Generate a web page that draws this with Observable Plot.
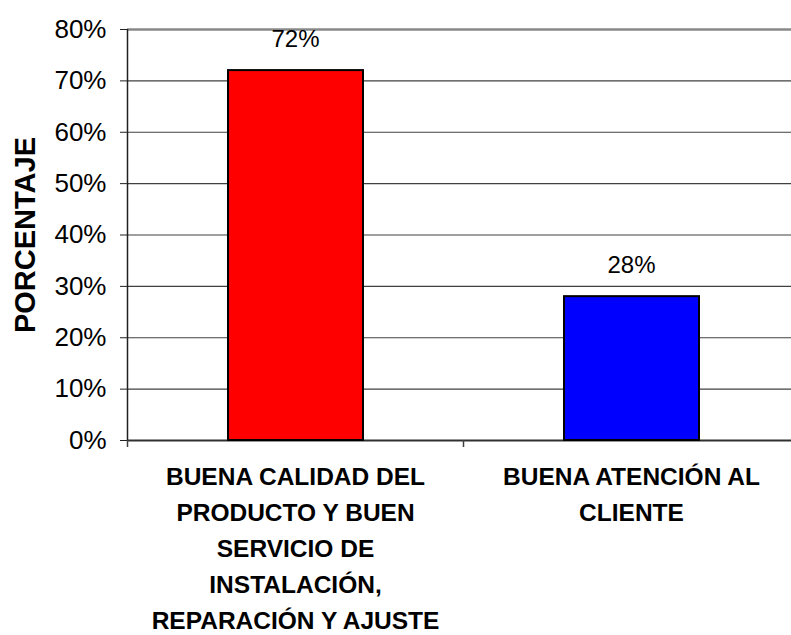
<!DOCTYPE html>
<html>
<head>
<meta charset="utf-8">
<script src="https://cdn.jsdelivr.net/npm/d3@7"></script>
<script src="https://cdn.jsdelivr.net/npm/@observablehq/plot@0.6"></script>
<style>
  html, body { margin: 0; padding: 0; background: #fff; }
</style>
</head>
<body>
<div id="chart"></div>
<script>
const categories = [
  "BUENA CALIDAD DEL\nPRODUCTO Y BUEN\nSERVICIO DE\nINSTALACIÓN,\nREPARACIÓN Y AJUSTE",
  "BUENA ATENCIÓN AL\nCLIENTE"
];
const values = [0.72, 0.28];
const valueLabels = ["72%", "28%"];
const barColors = ["#FF0000", "#0000FF"];
const yTicks = [0, 0.1, 0.2, 0.3, 0.4, 0.5, 0.6, 0.7, 0.8];
const yAxisTitle = "PORCENTAJE";

const data = categories.map((c, i) => ({cat: c, value: values[i], label: valueLabels[i], color: barColors[i]}));

const font = "'Liberation Sans', Arial, sans-serif";

const chart = Plot.plot({
  width: 791,
  height: 635,
  marginTop: 29,
  marginBottom: 195,
  marginLeft: 127,
  marginRight: 0,
  style: {fontFamily: font, fontSize: "24px", background: "#fff", color: "#000"},
  x: {type: "band", domain: categories, range: [127, 799], padding: 0, axis: null},
  y: {domain: [0, 0.8], axis: null},
  marks: [
    // gridlines
    Plot.ruleY(yTicks.filter(t => t > 0 && t < 0.8), {stroke: "#404040", strokeWidth: 1.2}),
    Plot.ruleY([0.8], {stroke: "#888", strokeWidth: 2.5}),
    Plot.ruleY([0], {stroke: "#303030", strokeWidth: 2}),
    // bars
    Plot.barY(data, {x: "cat", y: "value", fill: "color", stroke: "#000", strokeWidth: 2, insetLeft: 101, insetRight: 100}),
    // value labels
    Plot.text(data, {x: "cat", y: "value", text: "label", dy: -24, lineAnchor: "bottom", fontSize: 24, fill: "#000"}),
    // y axis line
    Plot.ruleX([categories[0]], {dx: -168, y1: 0, y2: 0.8, stroke: "#202020", strokeWidth: 1.5}),
    // category boundary ticks
    Plot.ruleX(categories, {x: d => d, dx: -168, y1: 0, y2: 0, insetBottom: -7, stroke: "#404040", strokeWidth: 1.5}),
    // y axis ticks & labels
    Plot.axisY({ticks: yTicks, tickFormat: d3.format(".0%"), tickSize: 7, tickPadding: 14, fontSize: 26, label: null, stroke: "#202020"}),
    // category labels
    Plot.text(data, {x: "cat", frameAnchor: "bottom", text: "cat", lineAnchor: "top", dy: 19, lineHeight: 1.47, fontWeight: "bold", fontSize: 24.5, fill: "#000"}),
    // y axis title
    Plot.text([yAxisTitle], {frameAnchor: "left", dx: -102, rotate: -90, textAnchor: "middle", text: d => d, fontWeight: "bold", fontSize: 29, fill: "#000"})
  ]
});

document.getElementById("chart").appendChild(chart);
</script>
</body>
</html>
